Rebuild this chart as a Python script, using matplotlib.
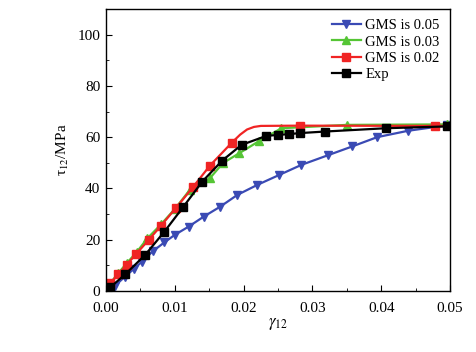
import matplotlib
matplotlib.use("Agg")
import matplotlib.pyplot as plt
from matplotlib.ticker import MultipleLocator, FormatStrFormatter

plt.rcParams['font.family'] = ['Liberation Serif', 'DejaVu Serif']
plt.rcParams['mathtext.fontset'] = 'stix'

# GMS is 0.05
x_b = [0.0, 0.0013, 0.0027, 0.0040, 0.0052, 0.0068, 0.0085, 0.0100, 0.0120, 0.0142,
       0.0166, 0.0191, 0.0220, 0.0252, 0.0284, 0.0322, 0.0358, 0.0394, 0.0439, 0.0495]
y_b = [0.0, 2.0, 5.5, 8.5, 11.4, 15.5, 19.0, 21.9, 25.1, 29.0,
       32.9, 37.5, 41.4, 45.3, 49.2, 52.9, 56.4, 60.0, 62.5, 64.6]

# GMS is 0.03
x_g = [0.0, 0.0006, 0.0018, 0.0030, 0.0045, 0.0060, 0.0080, 0.0100, 0.0122, 0.0151,
       0.0170, 0.0194, 0.0222, 0.0255, 0.0350, 0.0495]
y_g = [0.0, 3.0, 7.0, 10.8, 15.3, 20.5, 26.0, 32.0, 39.5, 44.0,
       49.9, 53.8, 58.4, 63.5, 64.8, 65.0]

# GMS is 0.02 (line points; markers on a subset)
x_r = [0.0, 0.0006, 0.0018, 0.0030, 0.0044, 0.0062, 0.0080, 0.0102, 0.0126, 0.0151,
       0.0183, 0.0195, 0.0205, 0.0215, 0.0225, 0.0282, 0.0478, 0.0500]
y_r = [0.0, 3.0, 6.5, 10.2, 14.5, 19.9, 25.5, 32.5, 40.4, 48.9,
       57.9, 61.0, 63.0, 64.0, 64.4, 64.5, 64.4, 64.4]
r_marks = [1, 2, 3, 4, 5, 6, 7, 8, 9, 10, 15, 16]

# Exp
x_e = [0.0, 0.0006, 0.0028, 0.0057, 0.0085, 0.0112, 0.0140, 0.0169, 0.0197, 0.0233,
       0.0250, 0.0266, 0.0282, 0.0318, 0.0407, 0.0495]
y_e = [0.0, 1.4, 6.5, 14.1, 23.2, 32.7, 42.7, 50.9, 57.0, 60.5,
       60.9, 61.2, 61.6, 62.2, 63.5, 64.2]
e_marks = list(range(1, 16))

fig = plt.figure(figsize=(4.76, 3.52), dpi=100)
ax = fig.add_axes([0.2227, 0.1733, 0.7227, 0.8011])

lw = 1.6
ax.plot(x_b, y_b, color='#3a4ab4', lw=lw, marker='v', ms=6, markevery=list(range(1, len(x_b))),
        label='GMS is 0.05')
ax.plot(x_g, y_g, color='#55c535', lw=lw, marker='^', ms=6, markevery=list(range(1, len(x_g))),
        label='GMS is 0.03')
ax.plot(x_r, y_r, color='#f02424', lw=lw, marker='s', ms=5.5, markevery=r_marks,
        label='GMS is 0.02')
ax.plot(x_e, y_e, color='black', lw=lw, marker='s', ms=5.5, markevery=e_marks,
        label='Exp')

ax.set_xlim(0, 0.05)
ax.set_ylim(0, 110)
ax.xaxis.set_major_locator(MultipleLocator(0.01))
ax.xaxis.set_minor_locator(MultipleLocator(0.005))
ax.yaxis.set_major_locator(MultipleLocator(20))
ax.yaxis.set_minor_locator(MultipleLocator(10))
ax.xaxis.set_major_formatter(FormatStrFormatter('%.2f'))
ax.tick_params(which='both', direction='in', top=False, right=False, labelsize=11)
ax.tick_params(axis='x', which='major', pad=8)
ax.tick_params(axis='y', which='major', pad=4)
ax.tick_params(which='major', length=4)
ax.tick_params(which='minor', length=2.5)
for s in ax.spines.values():
    s.set_linewidth(1.0)

ax.set_xlabel(r'$\gamma_{12}$', fontsize=12, labelpad=1)
ax.set_ylabel(r'τ$_{12}$/MPa', fontsize=11, labelpad=5)

leg = ax.legend(loc='upper right', frameon=False, fontsize=10.5, handlelength=2.0,
                handletextpad=0.3, labelspacing=0.2, borderaxespad=0.3)

fig.savefig('out.png', dpi=100)
